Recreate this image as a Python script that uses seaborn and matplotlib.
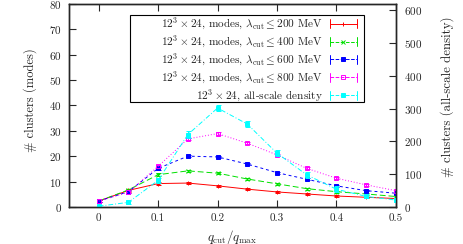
import matplotlib
matplotlib.use('Agg')
import matplotlib.pyplot as plt
import seaborn as sns
from matplotlib.legend_handler import HandlerBase
from matplotlib.lines import Line2D
from matplotlib.patches import Rectangle

# data
q = [0.0, 0.05, 0.1, 0.15, 0.2, 0.25, 0.3, 0.35, 0.4, 0.45, 0.5]
modes_200 = [2.3, 6.5, 9.2, 9.4, 8.3, 7.0, 5.9, 5.1, 4.3, 3.8, 3.3]
modes_400 = [2.3, 6.7, 12.7, 14.2, 13.3, 11.0, 9.1, 7.2, 6.0, 5.1, 4.1]
modes_600 = [2.3, 6.0, 15.2, 20.0, 19.7, 16.9, 13.5, 10.9, 8.3, 6.4, 5.4]
modes_800 = [2.3, 5.8, 16.0, 26.8, 28.9, 25.1, 20.5, 15.2, 11.3, 8.7, 6.4]
density = [2, 14, 81, 221, 302, 253, 164, 98, 54, 32, 21]
err_modes = [0.4, 0.5, 0.6, 0.5, 0.5, 0.5, 0.4, 0.4, 0.4, 0.3, 0.3]
err_density = [3, 4, 8, 10, 9, 10, 10, 10, 9, 6, 5]

labels = [r"$12^3\times 24$, modes, $\lambda_{\rm cut}\leq 200$ MeV",
          r"$12^3\times 24$, modes, $\lambda_{\rm cut}\leq 400$ MeV",
          r"$12^3\times 24$, modes, $\lambda_{\rm cut}\leq 600$ MeV",
          r"$12^3\times 24$, modes, $\lambda_{\rm cut}\leq 800$ MeV",
          r"$12^3\times 24$, all-scale density"]


class GnuplotErrHandler(HandlerBase):
    """Legend key like gnuplot: horizontal line, end caps, marker in the middle."""

    def create_artists(self, legend, orig, xdescent, ydescent, width, height,
                       fontsize, trans):
        y = height / 2 - ydescent
        x0, x1 = -xdescent, width - xdescent
        c = orig.get_color()
        line = Line2D([x0, x1], [y, y], color=c, ls=orig.get_linestyle(),
                      lw=orig.get_linewidth(), transform=trans)
        cap0 = Line2D([x0, x0], [y - 3, y + 3], color=c, lw=0.7, transform=trans)
        cap1 = Line2D([x1, x1], [y - 3, y + 3], color=c, lw=0.7, transform=trans)
        mk = Line2D([(x0 + x1) / 2], [y], color=c, marker=orig.get_marker(),
                    ms=orig.get_markersize(), mew=orig.get_markeredgewidth(),
                    mec=c, mfc=c, fillstyle=orig.get_fillstyle(), ls="none",
                    transform=trans)
        return [line, cap0, cap1, mk]


sns.set_theme(style="ticks")
plt.rcParams['font.family'] = ['cmr10', 'DejaVu Serif']
plt.rcParams['mathtext.fontset'] = 'cm'
plt.rcParams['axes.formatter.use_mathtext'] = True
plt.rcParams['axes.unicode_minus'] = False

fig = plt.figure(figsize=(4.63, 2.44), dpi=100)
ax = fig.add_axes([0.149, 0.152, 0.706, 0.832])
ax2 = ax.twinx()

styles = [("red", "-", "+", "full"),
          ("#00e000", (0, (6, 3)), "x", "full"),
          ("blue", (0, (3, 3)), "s", "full"),
          ("magenta", (0, (1, 2)), "s", "none"),
          ("cyan", (0, (5, 2, 1, 2)), "s", "full")]

keys = []
for series, (col, ls, mk, fill) in zip(
        [modes_200, modes_400, modes_600, modes_800], styles[:4]):
    h = ax.errorbar(q, series, yerr=err_modes, color=col, ls=ls, lw=0.7,
                    marker=mk, ms=2.2, mew=0.7, mec=col, fillstyle=fill,
                    capsize=1.8, elinewidth=0.7)
    keys.append(h[0])

col, ls, mk, fill = styles[4]
h = ax2.errorbar(q, density, yerr=err_density, color=col, ls=ls, lw=0.7,
                 marker=mk, ms=2.2, mew=0.7, capsize=1.8, elinewidth=0.7)
keys.append(h[0])

ax.set_xlim(-0.05, 0.5)
ax.set_ylim(0, 80)
ax2.set_ylim(0, 620)
ax.set_xticks([0, 0.1, 0.2, 0.3, 0.4, 0.5])
ax.set_xticklabels(["0", "0.1", "0.2", "0.3", "0.4", "0.5"])
ax.set_yticks(range(0, 81, 10))
ax2.set_yticks(range(0, 601, 100))

for a in (ax, ax2):
    a.tick_params(direction="in", labelsize=8, length=5, width=0.8)
    for s in a.spines.values():
        s.set_linewidth(1.0)
ax.tick_params(top=True, pad=5)
ax2.tick_params(pad=6)

ax.set_xlabel(r"$q_{\rm cut}/q_{\rm max}$", fontsize=9.3, labelpad=3)
ax.set_ylabel("# clusters (modes)", fontsize=9.0)
ax2.set_ylabel("# clusters (all-scale density)", fontsize=9.3)
ax.yaxis.set_label_coords(-0.098, 0.527)
ax2.yaxis.set_label_coords(1.135, 0.542)

# legend without its own frame; gnuplot-style box drawn separately
leg = ax2.legend(keys, labels, loc="upper right", bbox_to_anchor=(0.891, 0.957),
                 borderaxespad=0, markerfirst=False, fontsize=8.1, frameon=False,
                 handlelength=2.4, labelspacing=0.17, borderpad=0.3,
                 handletextpad=0.6, handler_map={Line2D: GnuplotErrHandler()})
leg.set_zorder(6)
box = Rectangle((0.187, 0.517), 0.715, 0.429, transform=ax2.transAxes,
                facecolor="white", edgecolor="black", lw=0.8, zorder=5)
ax2.add_patch(box)

fig.savefig("out.png", dpi=100)
